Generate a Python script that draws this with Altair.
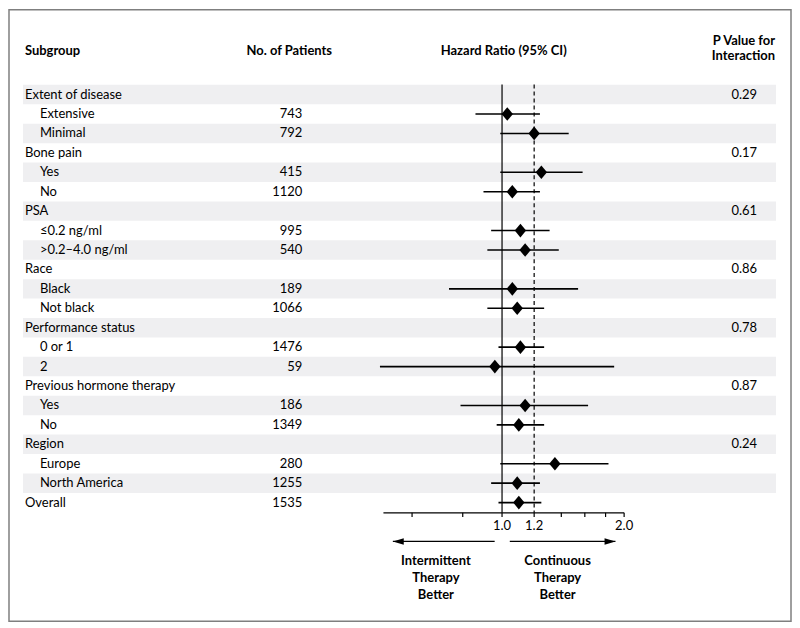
import altair as alt
import pandas as pd

# ---------------- data ----------------
labels = ["Extent of disease", "Extensive", "Minimal", "Bone pain", "Yes", "No",
          "PSA", "≤0.2 ng/ml", ">0.2–4.0 ng/ml", "Race", "Black", "Not black",
          "Performance status", "0 or 1", "2", "Previous hormone therapy", "Yes", "No",
          "Region", "Europe", "North America", "Overall"]
is_group = [1, 0, 0, 1, 0, 0, 1, 0, 0, 1, 0, 0, 1, 0, 0, 1, 0, 0, 1, 0, 0, 1]
patients = [None, 743, 792, None, 415, 1120, None, 995, 540, None, 189, 1066,
            None, 1476, 59, None, 186, 1349, None, 280, 1255, 1535]
hr = [None, 1.03, 1.20, None, 1.25, 1.06, None, 1.11, 1.14, None, 1.06, 1.09,
      None, 1.11, 0.96, None, 1.14, 1.10, None, 1.35, 1.09, 1.10]
ci_low = [None, 0.86, 0.99, None, 0.99, 0.90, None, 0.94, 0.92, None, 0.74, 0.92,
          None, 0.98, 0.50, None, 0.79, 0.97, None, 0.99, 0.94, 0.98]
ci_high = [None, 1.24, 1.46, None, 1.58, 1.24, None, 1.31, 1.38, None, 1.54, 1.27,
           None, 1.27, 1.89, None, 1.63, 1.27, None, 1.83, 1.24, 1.25]
p_values = ["0.29", "", "", "0.17", "", "", "0.61", "", "", "0.86", "", "",
            "0.78", "", "", "0.87", "", "", "0.24", "", "", ""]

tick_values = [0.6, 0.8, 1.0, 1.2, 1.4, 1.6, 1.8, 2.0]
tick_labels = ["1.0", "1.2", "2.0"]
tick_label_values = [1.0, 1.2, 2.0]
axis_extent = [0.51, 2.0]
ref_solid = 1.0
ref_dashed = 1.2
arrow_left = [0.538, 0.959]
arrow_right = [1.045, 1.904]

# ---------------- layout ----------------
W, H = 784, 613
ROW_H = 19.48
X1 = 494.3      # pixel of HR = 1.0 inside the view
PPD = 122.4     # pixels per doubling of HR
x_domain = [2 ** (-X1 / PPD), 2 ** ((W - X1) / PPD)]
y0 = 1 - 85 / ROW_H
y_domain = [y0, y0 + H / ROW_H]


def row_at(px):
    return y0 + px / ROW_H


xs = alt.Scale(type="log", domain=x_domain, nice=False)
ys = alt.Scale(domain=y_domain, reverse=True, nice=False, zero=False)


def X(f):
    return alt.X(f, type="quantitative", scale=xs, axis=None)


def Y(f):
    return alt.Y(f, type="quantitative", scale=ys, axis=None)


rows = pd.DataFrame({
    "label": labels,
    "group": is_group,
    "n": ["" if v is None else str(v) for v in patients],
    "hr": hr, "lo": ci_low, "hi": ci_high,
    "p": p_values,
})
rows["r"] = range(1, len(rows) + 1)
rows["r0"] = rows["r"] - 0.5
rows["r1"] = rows["r"] + 0.5
rows["stripe"] = (rows["r"] % 2 == 1)

est = rows.dropna(subset=["hr"]).copy()
stripes = rows[rows["stripe"]]

FONT = "Lato"
FS = 13

stripe_layer = alt.Chart(stripes).mark_rect(color="#efeff1").encode(
    x=alt.value(14), x2=alt.value(769), y=Y("r0"), y2="r1")

r_top = row_at(75)
r_axis = row_at(504.3)
refs = pd.DataFrame({"x": [ref_solid], "a": [r_top], "b": [r_axis]})
refs2 = pd.DataFrame({"x": [ref_dashed], "a": [r_top], "b": [r_axis]})
ref_layer = alt.Chart(refs).mark_rule(color="black", strokeWidth=1.2).encode(
    x=X("x"), y=Y("a"), y2="b")
ref2_layer = alt.Chart(refs2).mark_rule(color="black", strokeWidth=1.2,
                                        strokeDash=[4, 3]).encode(
    x=X("x"), y=Y("a"), y2="b")

axis_df = pd.DataFrame({"a": [axis_extent[0]], "b": [axis_extent[1]], "y": [r_axis]})
axis_layer = alt.Chart(axis_df).mark_rule(color="black", strokeWidth=1.2).encode(
    x=X("a"), x2="b", y=Y("y"))
ticks_df = pd.DataFrame({"x": tick_values, "a": r_axis, "b": row_at(508.5)})
ticks_layer = alt.Chart(ticks_df).mark_rule(color="black", strokeWidth=1.2).encode(
    x=X("x"), y=Y("a"), y2="b")
tl_df = pd.DataFrame({"x": tick_label_values, "t": tick_labels, "y": row_at(518)})
tl_layer = alt.Chart(tl_df).mark_text(font=FONT, fontSize=FS, color="black",
                                      baseline="middle").encode(
    x=X("x"), y=Y("y"), text="t")

ci_layer = alt.Chart(est).mark_rule(color="black", strokeWidth=1.6).encode(
    x=X("lo"), x2="hi", y=Y("r"))
diamond = "M 0 -1.2 L 1 0 L 0 1.2 L -1 0 Z"
pt_layer = alt.Chart(est).mark_point(shape=diamond, filled=True, size=130,
                                     color="black", opacity=1).encode(
    x=X("hr"), y=Y("r"))

txt = dict(font=FONT, fontSize=FS, color="black", baseline="middle")
grp_layer = alt.Chart(rows[rows["group"] == 1]).mark_text(align="left", **txt).encode(
    x=alt.value(16), y=Y("r"), text="label")
item_layer = alt.Chart(rows[rows["group"] == 0]).mark_text(align="left", **txt).encode(
    x=alt.value(31), y=Y("r"), text="label")
n_layer = alt.Chart(rows).mark_text(align="right", **txt).encode(
    x=alt.value(294), y=Y("r"), text="n")
p_layer = alt.Chart(rows).mark_text(align="right", **txt).encode(
    x=alt.value(750), y=Y("r"), text="p")

hdr = dict(font=FONT, fontSize=FS, color="black", baseline="middle", fontWeight="bold")
hdr_df = pd.DataFrame({"y": [row_at(41)]})
h1 = alt.Chart(hdr_df).mark_text(align="left", text="Subgroup", **hdr).encode(
    x=alt.value(16), y=Y("y"))
h2 = alt.Chart(hdr_df).mark_text(align="center", text="No. of Patients", **hdr).encode(
    x=alt.value(281), y=Y("y"))
h3 = alt.Chart(hdr_df).mark_text(align="center", text="Hazard Ratio (95% CI)", **hdr).encode(
    x=alt.value(496), y=Y("y"))
hp_df = pd.DataFrame({"y": [row_at(31)]})
h4 = alt.Chart(hp_df).mark_text(align="right", text="P Value for\nInteraction",
                                lineBreak="\n", lineHeight=15.5, **hdr).encode(
    x=alt.value(768), y=Y("y"))

r_arrow = row_at(533)
arr_df = pd.DataFrame({"a": [arrow_left[0], arrow_right[0]],
                       "b": [arrow_left[1], arrow_right[1]], "y": r_arrow})
arr_layer = alt.Chart(arr_df).mark_rule(color="black", strokeWidth=1.2).encode(
    x=X("a"), x2="b", y=Y("y"))
headL = alt.Chart(pd.DataFrame({"x": [arrow_left[0]], "y": [r_arrow]})).mark_point(
    shape="M 0 0 L 2 -0.6 L 2 0.6 Z", filled=True, size=120, color="black",
    opacity=1).encode(x=X("x"), y=Y("y"))
headR = alt.Chart(pd.DataFrame({"x": [arrow_right[1]], "y": [r_arrow]})).mark_point(
    shape="M 0 0 L -2 -0.6 L -2 0.6 Z", filled=True, size=120, color="black",
    opacity=1).encode(x=X("x"), y=Y("y"))

lab_df = pd.DataFrame({"y": [row_at(553)]})
labL = alt.Chart(lab_df).mark_text(align="center", text="Intermittent\nTherapy\nBetter",
                                   lineBreak="\n", lineHeight=17, **hdr).encode(
    x=alt.value(428), y=Y("y"))
labR = alt.Chart(lab_df).mark_text(align="center", text="Continuous\nTherapy\nBetter",
                                   lineBreak="\n", lineHeight=17, **hdr).encode(
    x=alt.value(550), y=Y("y"))

chart = alt.layer(
    stripe_layer, ref_layer, ref2_layer, axis_layer, ticks_layer, tl_layer,
    ci_layer, pt_layer, grp_layer, item_layer, n_layer, p_layer,
    h1, h2, h3, h4, arr_layer, headL, headR, labL, labR,
).properties(
    width=W, height=H,
    padding={"left": 1, "top": 1, "right": 1, "bottom": 1},
    autosize=alt.AutoSizeParams(type="none"),
    background="white",
).configure_view(stroke="#7f7f7f", strokeWidth=1.5)

chart.save("out.html", embed_options={"renderer": "svg", "actions": False})
